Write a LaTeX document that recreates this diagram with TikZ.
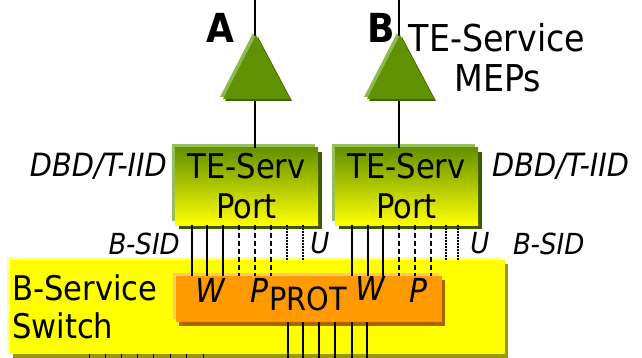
\documentclass[tikz,border=0pt]{standalone}
\usepackage{fontspec}
\setmainfont{DejaVu Sans}[FakeStretch=0.9]
\usetikzlibrary{shadows}

\definecolor{mepgreen}{RGB}{96,145,0}
\definecolor{mepgreenlt}{RGB}{140,185,80}
\definecolor{mepgreendk}{RGB}{65,100,0}
\definecolor{porttop}{RGB}{100,145,0}
\definecolor{portlt}{RGB}{150,190,90}
\definecolor{portdk}{RGB}{60,90,0}
\definecolor{swyellow}{RGB}{255,255,0}
\definecolor{swlt}{RGB}{255,255,150}
\definecolor{swdk}{RGB}{153,153,0}
\definecolor{protorange}{RGB}{255,153,0}
\definecolor{protlt}{RGB}{255,200,100}
\definecolor{protdk}{RGB}{170,100,0}

\tikzset{
  bevel/.style n args={6}{
    general shadow={fill=#2, shadow xshift=#5, shadow yshift=-#6},
    general shadow={fill=#1, shadow xshift=-#3, shadow yshift=#4}},
  wire/.style={line width=1.3pt, black},
  dashwire/.style={wire, dash pattern=on 5pt off 3pt},
  dotwire/.style={wire, line width=1.1pt, dash pattern=on 1.3pt off 1.7pt},
  lab/.style={inner sep=0pt, anchor=base, text=black},
  mep/.style={fill=mepgreen,
    bevel={mepgreenlt}{mepgreendk}{3pt}{2pt}{2pt}{2pt}},
  portbox/.style={draw=none, top color=porttop, bottom color=swyellow,
    minimum width=143pt, minimum height=77pt, inner sep=0pt, align=center,
    font=\fontsize{34}{40}\selectfont,
    bevel={portlt}{portdk}{3pt}{4pt}{4pt}{4pt}},
  protbox/.style={fill=protorange, minimum width=266pt, minimum height=46pt,
    inner sep=0pt, bevel={protlt}{protdk}{3pt}{3pt}{3pt}{4pt}},
  swbox/.style={fill=swyellow, minimum width=495pt, minimum height=94pt,
    inner sep=0pt, bevel={swlt}{swdk}{3pt}{3pt}{3pt}{4pt}},
  bigtxt/.style={font=\fontsize{34}{40}\selectfont},
  itlab/.style={font=\itshape\fontsize{32}{38}\selectfont},
  sidlab/.style={font=\itshape\fontsize{29}{34}\selectfont},
  wplab/.style={font=\itshape\fontsize{33}{38}\selectfont},
}

\begin{document}
\begin{tikzpicture}[x=1pt, y=-1pt]
\useasboundingbox (0,0) rectangle (642,358);

% B-Service switch and the protection block
\node[swbox] (sw) at (257.5,307) {};
\node[protbox] (prot) at (309,299) {};

% TE-Service ports
\node[portbox] (portL) at (246.5,186.5) {TE-Serv\\Port};
\node[portbox] (portR) at (406.5,186.5) {TE-Serv\\Port};

% MEP attachment lines
\coordinate (topA) at (255,0);
\coordinate (topB) at (399,0);
\draw[wire] (topA) -- (portL.north -| topA);
\draw[wire] (topB) -- (portR.north -| topB);

% MEP triangles
\path[mep] (256,35) -- (290,99) -- (223,99) -- cycle;
\coordinate (mepA) at (256,75);
\path[mep] (400,35) -- (434,99) -- (367,99) -- cycle;
\coordinate (mepB) at (400,75);

% port to PROT: working (solid), protection (dashed), unprotected (dotted)
\foreach \x in {192,207,223,352,368,383}
  \draw[wire] (portL.south -| \x,0) -- (prot.north -| \x,0);
\foreach \x in {239,255,271,399,415,431}
  \draw[dashwire] (portL.south -| \x,0) -- (prot.north -| \x,0);
\foreach \x in {287,303,446,458}
  \draw[dotwire] (portL.south -| \x,0) -- (sw.north -| \x,0);

% lines leaving the switch
\foreach \x in {288,303,319,335,352,367}
  \draw[wire] (prot.south -| \x,0) -- (\x,358);
\foreach \x in {89,105,121,137,153,170,186,203}
  \draw[wire, line width=1pt] (sw.south -| \x,0) -- (\x,358);

% labels
\node[lab, font=\bfseries\fontsize{40}{48}\selectfont] (labA) at (220,43) {A};
\node[lab, font=\bfseries\fontsize{40}{48}\selectfont] (labB) at (381,43) {B};
\node[lab, font=\fontsize{37}{44}\selectfont] (mep1) at (497,52) {TE-Service};
\node[lab, font=\fontsize{37}{44}\selectfont] (mep2) at (498,92) {MEPs};

\node[lab, itlab, anchor=base east] (dbdL) at (167,177) {DBD/T-IID};
\node[lab, itlab, anchor=base west] (dbdR) at (492,177) {DBD/T-IID};

\node[lab, sidlab, anchor=base east] (sidL) at (180,254) {B-SID};
\node[lab, sidlab, anchor=base west] (sidR) at (513,254) {B-SID};
\node[lab, sidlab] (uL) at (320,253) {U};
\node[lab, sidlab] (uR) at (480,253) {U};

\node[lab, bigtxt, anchor=base west] (sw1) at (12,300) {B-Service};
\node[lab, bigtxt, anchor=base west] (sw2) at (12,338) {Switch};

\node[lab, wplab] (w1) at (210,302) {W};
\node[lab, wplab] (p1) at (259,302) {P};
\node[lab, font=\fontsize{32}{38}\selectfont] (prott) at (308,310) {PROT};
\node[lab, wplab] (w2) at (370,300) {W};
\node[lab, wplab] (p2) at (418,302) {P};
\end{tikzpicture}
\end{document}
